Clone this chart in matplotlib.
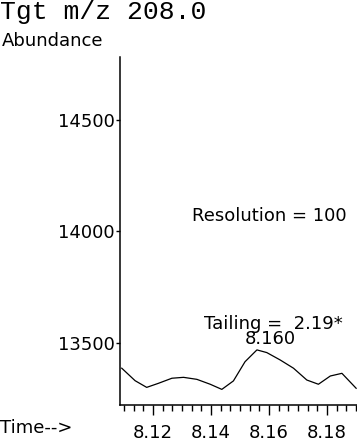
import matplotlib
matplotlib.use("Agg")
import matplotlib.pyplot as plt
from matplotlib.ticker import AutoMinorLocator

time_min = [8.1092, 8.1138, 8.1178, 8.1218, 8.1265, 8.1305, 8.1351, 8.1397, 8.1437,
            8.1477, 8.1517, 8.1558, 8.1592, 8.1638, 8.1684, 8.1730, 8.1770, 8.1811,
            8.1851, 8.1900]
abundance = [13387, 13331, 13301, 13319, 13342, 13346, 13337, 13315, 13292,
             13330, 13416, 13469, 13457, 13424, 13387, 13334, 13315, 13352,
             13364, 13297]
y_ticks = [13500, 14000, 14500]
x_ticks = [8.12, 8.14, 8.16, 8.18]
peak_time = 8.160
peak_label = "8.160"
title = "Tgt m/z 208.0"
resolution_text = "Resolution = 100"
tailing_text = "Tailing =  2.19*"

W, H = 357, 441
fig = plt.figure(figsize=(W / 100, H / 100), dpi=100)
sans = "DejaVu Sans"
fs = 13
ax = fig.add_axes([120 / W, (H - 405) / H, 1 - 120 / W, (405 - 57) / H])
ax.plot(time_min, abundance, color="black", lw=0.9)
ax.set_xlim(8.1086, 8.1903)
ax.set_ylim(13222, 14782)
ax.set_yticks(y_ticks)
ax.set_yticklabels([str(v) for v in y_ticks], fontfamily=sans, fontsize=fs)
ax.set_xticks(x_ticks)
ax.set_xticklabels([f"{v:.2f}" for v in x_ticks], fontfamily=sans, fontsize=fs)
ax.xaxis.set_minor_locator(AutoMinorLocator(6))
ax.tick_params(axis="y", direction="out", length=3, width=1, pad=1)
ax.tick_params(axis="x", which="major", direction="out", length=7, width=1, pad=7)
ax.tick_params(axis="x", which="minor", direction="out", length=4, width=1)
for s in ["top", "right"]:
    ax.spines[s].set_visible(False)
for s in ["left", "bottom"]:
    ax.spines[s].set_linewidth(1.1)

ax.text(8.1866, 14069, resolution_text, ha="right", va="center",
        fontfamily=sans, fontsize=fs)
ax.text(8.1855, 13585, tailing_text, ha="right", va="center",
        fontfamily=sans, fontsize=fs)
ax.text(peak_time + 0.0003, 13520, peak_label, ha="center", va="center",
        fontfamily=sans, fontsize=fs)

fig.text(0 / W, 1 - 12 / H, title, ha="left", va="center",
         fontfamily="Liberation Mono", fontsize=19)
fig.text(2 / W, 1 - 41 / H, "Abundance", ha="left", va="center",
         fontfamily=sans, fontsize=fs)
fig.text(0 / W, 1 - 428 / H, "Time-->", ha="left", va="center",
         fontfamily=sans, fontsize=fs)

fig.savefig("out.png", dpi=100)
